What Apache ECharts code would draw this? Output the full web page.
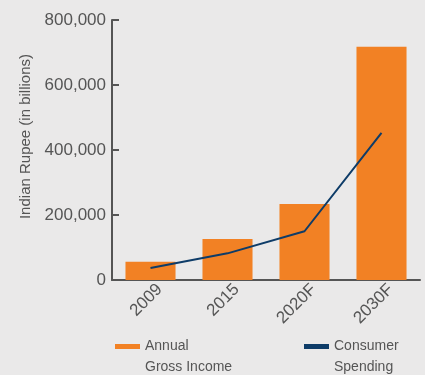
<!DOCTYPE html>
<html><head><meta charset="utf-8">
<script src="https://cdn.jsdelivr.net/npm/echarts@6/dist/echarts.min.js"></script>
<style>html,body{margin:0;padding:0;background:#eae9e9;}#c{width:425px;height:375px;}</style>
</head><body><div id="c"></div>
<script>
const categories = ['2009', '2015', '2020F', '2030F'];
const grossIncome = [56000, 126000, 234000, 718000];
const consumerSpending = [37000, 82000, 150000, 453000];
const yTicks = [0, 200000, 400000, 600000, 800000];
const legendNames = ['Annual\nGross Income', 'Consumer\nSpending'];

const chart = echarts.init(document.getElementById('c'), null, {renderer: 'canvas'});
const fmt = v => v.toLocaleString('en-US');
const iconPath = 'path://M0,0h0.01v0.01h-0.01z M0,8h25v5h-25z M0,42h0.01v0.01h-0.01z';
const legendText = {color: '#555', fontSize: 14, fontFamily: 'Liberation Sans', lineHeight: 21};
chart.setOption({
  backgroundColor: '#eae9e9',
  animation: false,
  grid: {left: 112, right: 5, top: 20, bottom: 95},
  xAxis: {
    type: 'category', data: categories,
    axisLine: {lineStyle: {color: '#555', width: 2}},
    axisTick: {show: false},
    axisLabel: {rotate: 45, color: '#555', fontSize: 17, fontFamily: 'Liberation Sans', margin: 16, padding: [0, -13, 0, 0]}
  },
  yAxis: {
    type: 'value', min: yTicks[0], max: yTicks[yTicks.length - 1], interval: 200000,
    name: 'Indian Rupee (in billions)', nameLocation: 'middle', nameGap: 76,
    nameTextStyle: {color: '#555', fontSize: 15, fontFamily: 'Liberation Sans', padding: [0, 0, 0, 27]},
    splitLine: {show: false},
    axisLine: {show: true, lineStyle: {color: '#555', width: 2}},
    axisTick: {show: true, inside: true, length: 7, lineStyle: {color: '#555', width: 2}},
    axisLabel: {color: '#555', fontSize: 17, fontFamily: 'Liberation Sans', margin: 6, formatter: fmt}
  },
  legend: [{
    data: [{name: legendNames[0], icon: iconPath}],
    left: 110, top: 331, itemWidth: 25, itemHeight: 42, itemGap: 6,
    textStyle: legendText
  }, {
    data: [{name: legendNames[1], icon: iconPath}],
    left: 299, top: 331, itemWidth: 25, itemHeight: 42, itemGap: 6,
    textStyle: legendText
  }],
  series: [{
    name: legendNames[0], type: 'bar', data: grossIncome,
    barWidth: '65%', itemStyle: {color: '#f28124'}
  }, {
    name: legendNames[1], type: 'line', data: consumerSpending,
    symbol: 'none', lineStyle: {color: '#0e3c68', width: 2}, itemStyle: {color: '#0e3c68'}
  }]
});
</script></body></html>
